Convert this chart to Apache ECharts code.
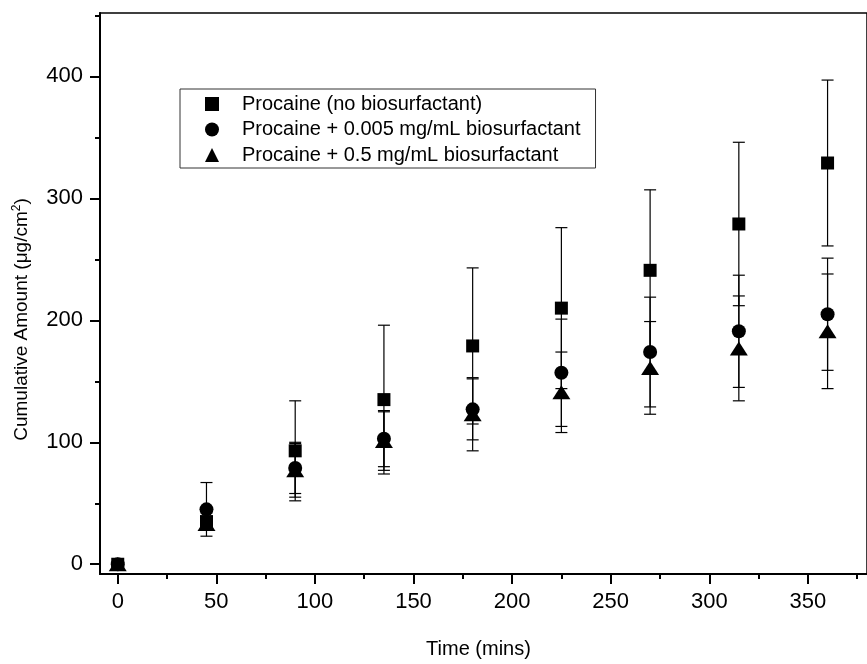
<!DOCTYPE html>
<html><head><meta charset="utf-8">
<script src="https://cdn.jsdelivr.net/npm/echarts@6/dist/echarts.min.js"></script>
<style>html,body{margin:0;padding:0;background:#fff}#c{width:867px;height:664px}</style>
</head><body><div id="c"></div>
<script>
const times = [0, 45, 90, 135, 180, 225, 270, 315, 360];
const noBio = [0, 35, 93, 135, 179, 210, 241, 279, 329];
const noBioErr = [0, 7, 41, 61, 64, 66, 66, 67, 68];
const bio005 = [0, 45, 79, 103, 127, 157, 174, 191, 205];
const bio005Err = [0, 22, 21, 23, 25, 44, 45, 46, 46];
const bio05 = [0, 33, 77, 101, 123, 141, 161, 177, 191];
const bio05Err = [0, 4, 22, 24, 30, 33, 38, 43, 47];
const seriesNames = ['Procaine (no biosurfactant)', 'Procaine + 0.005 mg/mL biosurfactant', 'Procaine + 0.5 mg/mL biosurfactant'];
const xMajorTicks = [0, 50, 100, 150, 200, 250, 300, 350];
const xMinorTicks = [25, 75, 125, 175, 225, 275, 325, 375];
const yMajorTicks = [0, 100, 200, 300, 400];
const yMinorTicks = [50, 150, 250, 350, 450];

const FONT = 'Liberation Sans, Arial, sans-serif';
const chart = echarts.init(document.getElementById('c'), null, {renderer: 'canvas'});

function pts(vals) { return times.map((t, i) => [t, vals[i]]); }
function errData(vals, errs) {
  const out = [];
  times.forEach((t, i) => { if (errs[i] > 0) out.push([t, vals[i] - errs[i], vals[i] + errs[i]]); });
  return out;
}
function errRender(params, api) {
  const x = api.value(0), lo = api.value(1), hi = api.value(2);
  const pLo = api.coord([x, lo]), pHi = api.coord([x, hi]);
  const hw = 6;
  const style = {stroke: '#000', lineWidth: 1.2, fill: null};
  return {type: 'group', children: [
    {type: 'line', shape: {x1: pLo[0], y1: pLo[1], x2: pHi[0], y2: pHi[1]}, style: style},
    {type: 'line', shape: {x1: pLo[0] - hw, y1: pLo[1], x2: pLo[0] + hw, y2: pLo[1]}, style: style},
    {type: 'line', shape: {x1: pHi[0] - hw, y1: pHi[1], x2: pHi[0] + hw, y2: pHi[1]}, style: style}
  ]};
}
function errSeries(vals, errs) {
  return {type: 'custom', renderItem: errRender, data: errData(vals, errs), z: 1, silent: true,
    encode: {x: 0, y: [1, 2]}, xAxisIndex: 0, yAxisIndex: 0};
}
const axisCommon = {type: 'value', splitLine: {show: false}};
const option = {
  animation: false,
  backgroundColor: '#fff',
  grid: {left: 100, top: 13, width: 774, height: 567, show: true, borderColor: '#000', borderWidth: 1.5, backgroundColor: 'transparent'},
  legend: {
    orient: 'vertical', left: 180, top: 89, data: seriesNames,
    itemWidth: 14, itemHeight: 14, itemGap: 5.5, padding: [5, 15, 3, 25],
    borderColor: '#333', borderWidth: 1,
    textStyle: {fontSize: 20, lineHeight: 20, color: '#000', fontFamily: FONT, padding: [0, 0, 0, 18]}
  },
  xAxis: [
    Object.assign({}, axisCommon, {
      min: -9, max: 380, position: 'bottom',
      axisLine: {show: true, onZero: false, lineStyle: {color: '#000', width: 2}},
      axisTick: {show: true, customValues: xMajorTicks, length: 10, lineStyle: {color: '#000', width: 2}},
      axisLabel: {customValues: xMajorTicks, fontSize: 22, color: '#000', margin: 17, fontFamily: FONT},
      name: 'Time (mins)', nameLocation: 'middle', nameGap: 65,
      nameTextStyle: {fontSize: 20, color: '#000', fontFamily: FONT, padding: [0, 10, 0, 0]}
    }),
    Object.assign({}, axisCommon, {
      min: -9, max: 380, position: 'bottom',
      axisLine: {show: false, onZero: false},
      axisTick: {show: true, customValues: xMinorTicks, length: 5, lineStyle: {color: '#000', width: 2}},
      axisLabel: {show: false}
    })
  ],
  yAxis: [
    Object.assign({}, axisCommon, {
      min: -8, max: 452, position: 'left',
      axisLine: {show: true, onZero: false, lineStyle: {color: '#000', width: 2}},
      axisTick: {show: true, customValues: yMajorTicks, length: 10, lineStyle: {color: '#000', width: 2}},
      axisLabel: {customValues: yMajorTicks, fontSize: 22, color: '#000', margin: 17, fontFamily: FONT},
      name: 'Cumulative Amount (μg/cm{sup|2})', nameLocation: 'middle', nameGap: 67,
      nameTextStyle: {fontSize: 19, color: '#000', fontFamily: FONT, padding: [0, 52, 0, 0],
        rich: {sup: {fontSize: 12, fontFamily: FONT, color: '#000', padding: [0, 0, 10, 0]}}}
    }),
    Object.assign({}, axisCommon, {
      min: -8, max: 452, position: 'left',
      axisLine: {show: false, onZero: false},
      axisTick: {show: true, customValues: yMinorTicks, length: 5, lineStyle: {color: '#000', width: 2}},
      axisLabel: {show: false}
    })
  ],
  series: [
    errSeries(noBio, noBioErr),
    errSeries(bio005, bio005Err),
    errSeries(bio05, bio05Err),
    {name: seriesNames[0], type: 'scatter', symbol: 'rect', symbolSize: 13, data: pts(noBio), itemStyle: {color: '#000', opacity: 1}, z: 3},
    {name: seriesNames[1], type: 'scatter', symbol: 'circle', symbolSize: 14, data: pts(bio005), itemStyle: {color: '#000', opacity: 1}, z: 3},
    {name: seriesNames[2], type: 'scatter', symbol: 'triangle', symbolSize: [18, 14], data: pts(bio05), itemStyle: {color: '#000', opacity: 1}, z: 3}
  ]
};
chart.setOption(option);
</script>
</body></html>
